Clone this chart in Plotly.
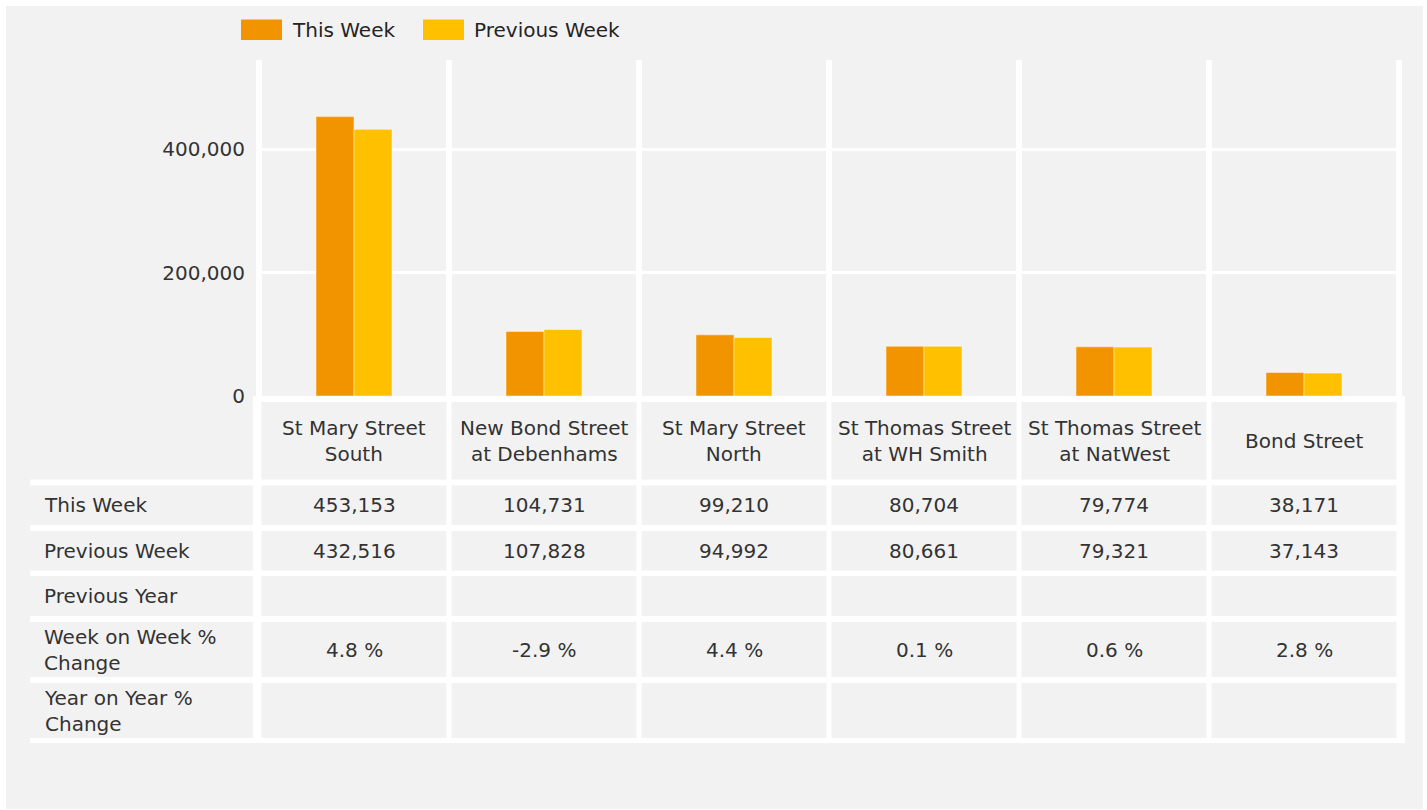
import plotly.graph_objects as go

# ---------------- data ----------------
categories = ["St Mary Street<br>South", "New Bond Street<br>at Debenhams", "St Mary Street<br>North",
              "St Thomas Street<br>at WH Smith", "St Thomas Street<br>at NatWest", "Bond Street"]
this_week = [453153, 104731, 99210, 80704, 79774, 38171]
previous_week = [432516, 107828, 94992, 80661, 79321, 37143]
previous_year = [None, None, None, None, None, None]
wow_change = [4.8, -2.9, 4.4, 0.1, 0.6, 2.8]
yoy_change = [None, None, None, None, None, None]
row_labels = ["This Week", "Previous Week", "Previous Year", "Week on Week %<br>Change", "Year on Year %<br>Change"]
y_ticks = [0, 200000, 400000]

C_THIS = "#F29400"
C_PREV = "#FFC000"
GRAY = "#F2F2F2"
TXT = "#333333"
FONT = "DejaVu Sans"

# ---------------- geometry (pixels) ----------------
W, H = 1427, 810
L, R, T, B = 256, 1402, 60, 396


def px(x):
    return (x - L) / (R - L)


def py(y):
    return (B - y) / (B - T)


fig = go.Figure()
fig.add_trace(go.Bar(name="This Week", x=categories, y=this_week,
                     marker=dict(color=C_THIS, line=dict(color="rgba(255,255,255,0.45)", width=1))))
fig.add_trace(go.Bar(name="Previous Week", x=categories, y=previous_week,
                     marker=dict(color=C_PREV, line=dict(color="rgba(255,255,255,0.45)", width=1))))

shapes = []
annotations = []

# outer gray panel
shapes.append(dict(type="rect", xref="paper", yref="paper", x0=px(6), x1=px(1423), y0=py(809), y1=py(6),
                   fillcolor=GRAY, line=dict(width=0), layer="below"))
# plot edge separators
for i in [-0.5, len(categories) - 0.5]:
    shapes.append(dict(type="rect", xref="x", yref="paper", xsizemode="pixel", xanchor=i, x0=-3, x1=3,
                       y0=0, y1=1, fillcolor="white", line=dict(width=0), layer="above"))

# table white background
shapes.append(dict(type="rect", xref="paper", yref="paper", x0=px(253), x1=px(1405), y0=py(743), y1=py(396),
                   fillcolor="white", line=dict(width=0), layer="above"))
shapes.append(dict(type="rect", xref="paper", yref="paper", x0=px(30), x1=px(253), y0=py(743), y1=py(479.5),
                   fillcolor="white", line=dict(width=0), layer="above"))

header_rows = (402, 479.5)
rows = [(485.5, 525), (531, 570.5), (576, 616), (622, 677), (683, 738)]

# header cells
for i, c in enumerate(categories):
    shapes.append(dict(type="rect", xref="x", yref="paper", xsizemode="pixel", xanchor=i, x0=-92.5, x1=92.5,
                       y0=py(header_rows[1]), y1=py(header_rows[0]), fillcolor=GRAY, line=dict(width=0),
                       layer="above"))
    annotations.append(dict(xref="x", yref="paper", x=i, y=py((header_rows[0] + header_rows[1]) / 2),
                            xanchor="center", yanchor="middle",
                            text=c, showarrow=False, font=dict(family=FONT, size=20, color=TXT), align="center"))


def fmt_num(v):
    return "" if v is None else f"{v:,.0f}"


def fmt_pct(v):
    return "" if v is None else f"{v:.1f} %"


table_values = [
    [fmt_num(v) for v in this_week],
    [fmt_num(v) for v in previous_week],
    [fmt_num(v) for v in previous_year],
    [fmt_pct(v) for v in wow_change],
    [fmt_pct(v) for v in yoy_change],
]

for r, (top, bot) in enumerate(rows):
    cy = py((top + bot) / 2)
    shapes.append(dict(type="rect", xref="paper", yref="paper", x0=px(30), x1=px(253), y0=py(bot), y1=py(top),
                       fillcolor=GRAY, line=dict(width=0), layer="above"))
    annotations.append(dict(xref="paper", yref="paper", x=px(42), y=cy, xanchor="left", yanchor="middle",
                            text=row_labels[r], showarrow=False,
                            font=dict(family=FONT, size=20, color=TXT), align="left"))
    for i in range(len(categories)):
        shapes.append(dict(type="rect", xref="x", yref="paper", xsizemode="pixel", xanchor=i, x0=-92.5, x1=92.5,
                           y0=py(bot), y1=py(top), fillcolor=GRAY, line=dict(width=0), layer="above"))
        if table_values[r][i]:
            annotations.append(dict(xref="x", yref="paper", x=i, y=cy, xanchor="center", yanchor="middle",
                                    text=table_values[r][i], showarrow=False,
                                    font=dict(family=FONT, size=20, color=TXT)))

# legend
legend_items = [("This Week", C_THIS, 241, 282, 290), ("Previous Week", C_PREV, 423, 464, 472)]
for name, col, x0, x1, tx in legend_items:
    shapes.append(dict(type="rect", xref="paper", yref="paper", x0=px(x0), x1=px(x1), y0=py(40), y1=py(19.5),
                       fillcolor=col, line=dict(width=0)))
    annotations.append(dict(xref="paper", yref="paper", x=px(tx), y=py(30), xanchor="left", yanchor="middle",
                            text=name, showarrow=False, font=dict(family=FONT, size=20, color="#252423")))

fig.update_layout(
    width=W, height=H,
    margin=dict(l=L, r=W - R, t=T, b=H - B, pad=0),
    paper_bgcolor="white", plot_bgcolor=GRAY,
    barmode="group", bargap=0.6, bargroupgap=0,
    showlegend=False,
    shapes=shapes, annotations=annotations,
    font=dict(family=FONT, size=20, color=TXT),
)
fig.update_xaxes(type="category", tickson="boundaries", showgrid=True, gridcolor="white", gridwidth=6,
                 showticklabels=False, ticks="", showline=False, zeroline=False)
fig.update_yaxes(range=[0, 545000], tickvals=y_ticks, tickformat=",", showgrid=True, gridcolor="white",
                 gridwidth=3, zeroline=False, showline=False, ticks="", ticklabelstandoff=10,
                 tickfont=dict(family=FONT, size=20, color=TXT))

fig.write_html("out.html", config={"displayModeBar": False},
               post_script="document.body.style.margin='0px';")
